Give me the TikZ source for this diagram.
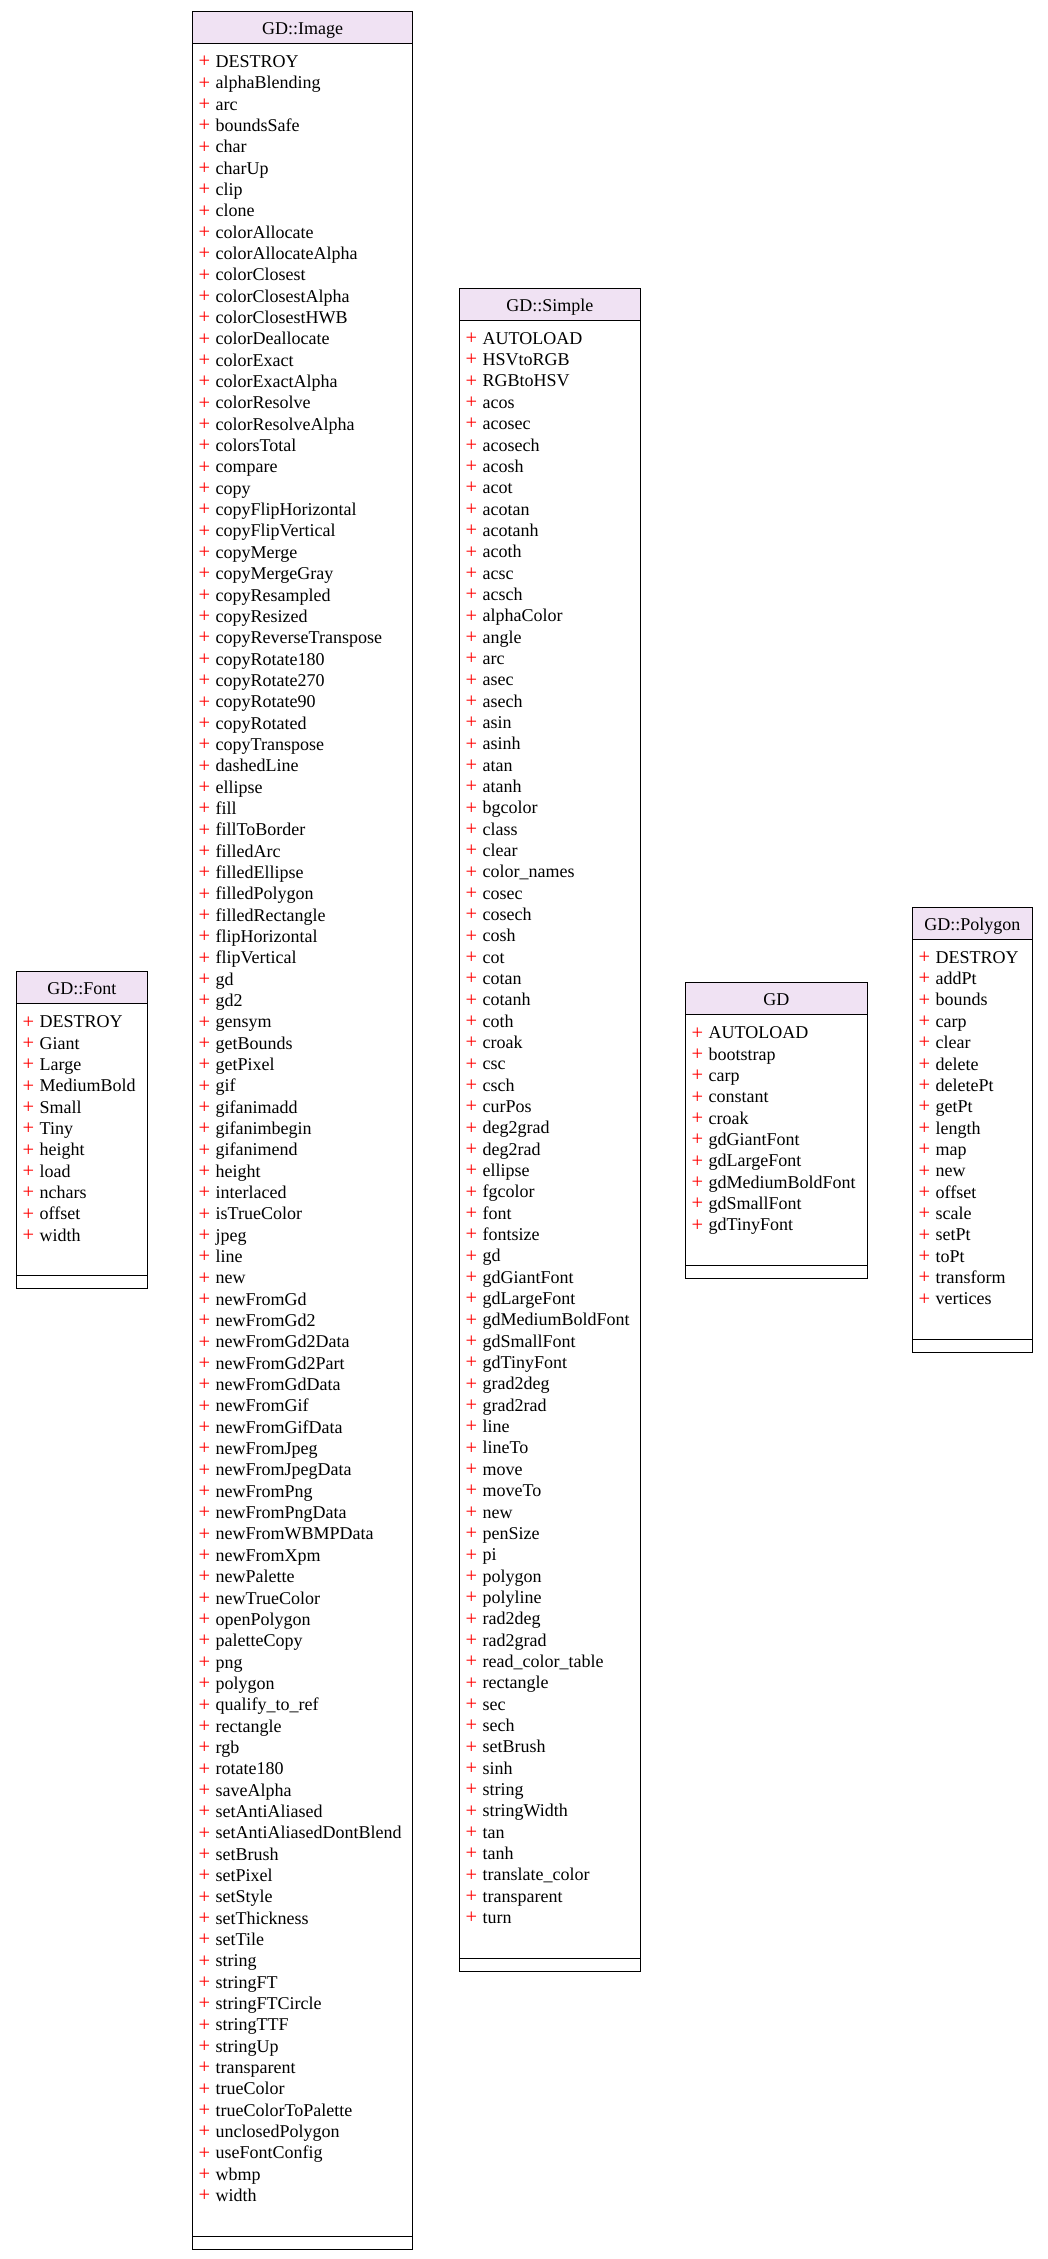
\documentclass[tikz,border=0pt]{standalone}
\usepackage{fontspec}
\setmainfont{Liberation Serif}
\usepackage{xcolor}
\usepackage{tikz}
\usetikzlibrary{positioning}

\definecolor{headfill}{RGB}{240,226,243}
\definecolor{plusred}{RGB}{255,0,0}
\newcommand{\mem}[1]{\makebox[17pt][l]{\textcolor{plusred}{\fontsize{20.5pt}{20.5pt}\selectfont\raisebox{-0.3pt}{+}}}#1}

\begin{document}
\begin{tikzpicture}[
    x=1pt, y=-1pt,
    font=\fontsize{18pt}{21.34pt}\selectfont,
    classhead/.style={rectangle, draw, line width=1pt, fill=headfill, minimum height=32pt, inner sep=0pt, outer sep=0pt, text height=13.6pt, text depth=0pt, anchor=north west},
    classattr/.style={rectangle, draw, line width=1pt, fill=white, inner sep=0pt, outer sep=0pt},
    classops/.style={rectangle, draw, line width=1pt, fill=white, minimum height=13pt, inner sep=0pt, outer sep=0pt},
    member/.style={anchor=base west, inner sep=0pt}
]
    \useasboundingbox (0,0) rectangle (1048,2259);

    % GD::Font
    \node[classhead, minimum width=131pt] (fonthead) at (16.3,971.7) {GD::Font};
    \node[classattr, minimum width=131pt, minimum height=272.1pt, below=0pt of fonthead] (fontattr) {};
    \node[classops, minimum width=131pt, below=0pt of fontattr] (fontops) {};
    \foreach \m [count=\i from 0] in {DESTROY, Giant, Large, MediumBold, Small, Tiny, height, load, nchars, offset, width}
        \node[member] (fontm\i) at ([xshift=6.2pt, yshift={-24pt-\i*21.34pt}]fontattr.north west) {\mem{\m}};

    % GD::Image
    \node[classhead, minimum width=220.5pt] (imagehead) at (192.3,11.5) {GD::Image};
    \node[classattr, minimum width=220.5pt, minimum height=2192.7pt, below=0pt of imagehead] (imageattr) {};
    \node[classops, minimum width=220.5pt, below=0pt of imageattr] (imageops) {};
    \foreach \m [count=\i from 0] in {DESTROY, alphaBlending, arc, boundsSafe, char, charUp, clip, clone,
        colorAllocate, colorAllocateAlpha, colorClosest, colorClosestAlpha, colorClosestHWB, colorDeallocate,
        colorExact, colorExactAlpha, colorResolve, colorResolveAlpha, colorsTotal, compare, copy,
        copyFlipHorizontal, copyFlipVertical, copyMerge, copyMergeGray, copyResampled, copyResized,
        copyReverseTranspose, copyRotate180, copyRotate270, copyRotate90, copyRotated, copyTranspose,
        dashedLine, ellipse, fill, fillToBorder, filledArc, filledEllipse, filledPolygon, filledRectangle,
        flipHorizontal, flipVertical, gd, gd2, gensym, getBounds, getPixel, gif, gifanimadd, gifanimbegin,
        gifanimend, height, interlaced, isTrueColor, jpeg, line, new, newFromGd, newFromGd2, newFromGd2Data,
        newFromGd2Part, newFromGdData, newFromGif, newFromGifData, newFromJpeg, newFromJpegData, newFromPng,
        newFromPngData, newFromWBMPData, newFromXpm, newPalette, newTrueColor, openPolygon, paletteCopy,
        png, polygon, qualify\_to\_ref, rectangle, rgb, rotate180, saveAlpha, setAntiAliased,
        setAntiAliasedDontBlend, setBrush, setPixel, setStyle, setThickness, setTile, string, stringFT,
        stringFTCircle, stringTTF, stringUp, transparent, trueColor, trueColorToPalette, unclosedPolygon,
        useFontConfig, wbmp, width}
        \node[member] (imagem\i) at ([xshift=6.2pt, yshift={-24pt-\i*21.34pt}]imageattr.north west) {\mem{\m}};

    % GD::Simple
    \node[classhead, minimum width=181pt] (simplehead) at (459.3,288.3) {GD::Simple};
    \node[classattr, minimum width=181pt, minimum height=1637.9pt, below=0pt of simplehead] (simpleattr) {};
    \node[classops, minimum width=181pt, below=0pt of simpleattr] (simpleops) {};
    \foreach \m [count=\i from 0] in {AUTOLOAD, HSVtoRGB, RGBtoHSV, acos, acosec, acosech, acosh, acot,
        acotan, acotanh, acoth, acsc, acsch, alphaColor, angle, arc, asec, asech, asin, asinh, atan, atanh,
        bgcolor, class, clear, color\_names, cosec, cosech, cosh, cot, cotan, cotanh, coth, croak, csc,
        csch, curPos, deg2grad, deg2rad, ellipse, fgcolor, font, fontsize, gd, gdGiantFont, gdLargeFont,
        gdMediumBoldFont, gdSmallFont, gdTinyFont, grad2deg, grad2rad, line, lineTo, move, moveTo, new,
        penSize, pi, polygon, polyline, rad2deg, rad2grad, read\_color\_table, rectangle, sec, sech,
        setBrush, sinh, string, stringWidth, tan, tanh, translate\_color, transparent, turn}
        \node[member] (simplem\i) at ([xshift=6.2pt, yshift={-24pt-\i*21.34pt}]simpleattr.north west) {\mem{\m}};

    % GD
    \node[classhead, minimum width=182pt] (gdhead) at (685.3,982.7) {GD};
    \node[classattr, minimum width=182pt, minimum height=250.8pt, below=0pt of gdhead] (gdattr) {};
    \node[classops, minimum width=182pt, below=0pt of gdattr] (gdops) {};
    \foreach \m [count=\i from 0] in {AUTOLOAD, bootstrap, carp, constant, croak, gdGiantFont,
        gdLargeFont, gdMediumBoldFont, gdSmallFont, gdTinyFont}
        \node[member] (gdm\i) at ([xshift=6.2pt, yshift={-24pt-\i*21.34pt}]gdattr.north west) {\mem{\m}};

    % GD::Polygon
    \node[classhead, minimum width=120pt] (polyhead) at (912.3,907.3) {GD::Polygon};
    \node[classattr, minimum width=120pt, minimum height=400.1pt, below=0pt of polyhead] (polyattr) {};
    \node[classops, minimum width=120pt, below=0pt of polyattr] (polyops) {};
    \foreach \m [count=\i from 0] in {DESTROY, addPt, bounds, carp, clear, delete, deletePt, getPt,
        length, map, new, offset, scale, setPt, toPt, transform, vertices}
        \node[member] (polym\i) at ([xshift=6.2pt, yshift={-24pt-\i*21.34pt}]polyattr.north west) {\mem{\m}};
\end{tikzpicture}
\end{document}
